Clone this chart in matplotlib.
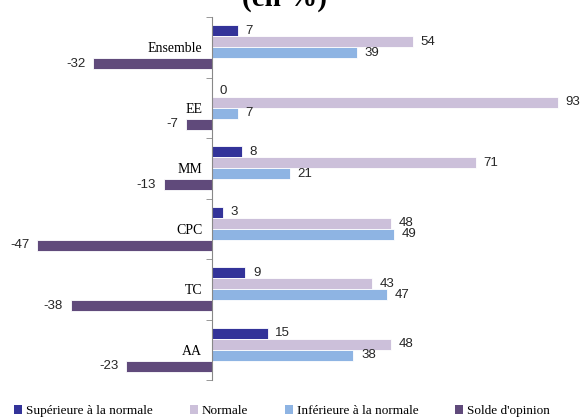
import numpy as np
import matplotlib
matplotlib.use('Agg')
import matplotlib.pyplot as plt
from matplotlib.patches import Patch

categories = ['Ensemble', 'EE', 'MM', 'CPC', 'TC', 'AA']
series = ['Supérieure à la normale', 'Normale', 'Inférieure à la normale', "Solde d'opinion"]
superieure = [7, 0, 8, 3, 9, 15]
normale = [54, 93, 71, 48, 43, 48]
inferieure = [39, 7, 21, 49, 47, 38]
solde = [-32, -7, -13, -47, -38, -23]
colors = ['#333399', '#CCC0DA', '#8EB4E3', '#604A7B']

fig = plt.figure(figsize=(5.82, 4.2), dpi=100)
ax = fig.add_axes([0.0, 1 - 380 / 420, 1.0, (380 - 17) / 420])

y = np.arange(len(categories))
h = 0.18
for i, (vals, c) in enumerate(zip([superieure, normale, inferieure, solde], colors)):
    pos = y + (i - 1.5) * h
    ax.barh(pos, vals, height=h, color=c, edgecolor='white', linewidth=0.6)
    for p, v in zip(pos, vals):
        ax.annotate(str(v), (v, p), xytext=(5.5 if v >= 0 else -5.5, 0),
                    textcoords='offset points', va='center',
                    ha='left' if v >= 0 else 'right',
                    fontsize=9.5, color='#262626', family='Liberation Sans')

ax.set_xlim(-212 / 3.72, 370 / 3.72)
ax.set_ylim(len(categories) - 0.5, -0.5)

for s in ['top', 'right', 'bottom']:
    ax.spines[s].set_visible(False)
ax.spines['left'].set_position(('data', 0))
ax.spines['left'].set_color('#888888')

ax.set_yticks(y)
ax.set_yticklabels(categories)
ax.set_yticks(np.arange(-0.5, len(categories)), minor=True)
ax.tick_params(axis='y', which='major', length=0, pad=7,
               labelfontfamily='Liberation Serif', labelsize=10)
ax.tick_params(axis='y', which='minor', length=4, color='#888888', direction='out')
ax.set_xticks([])

fig.text(284 / 582, 1 - 6 / 420, '(en %)', ha='center', va='baseline',
         fontsize=21, fontweight='bold', family='Liberation Serif')

handles = [Patch(facecolor=c, edgecolor='none') for c in colors]
fig.legend(handles, series, loc='center', bbox_to_anchor=(0.485, 1 - 411 / 420),
           ncol=4, frameon=False, prop={'family': 'Liberation Serif', 'size': 9.5},
           handlelength=0.6, handleheight=0.6, handletextpad=0.3, columnspacing=2.8)

fig.savefig('out.png', dpi=100)
